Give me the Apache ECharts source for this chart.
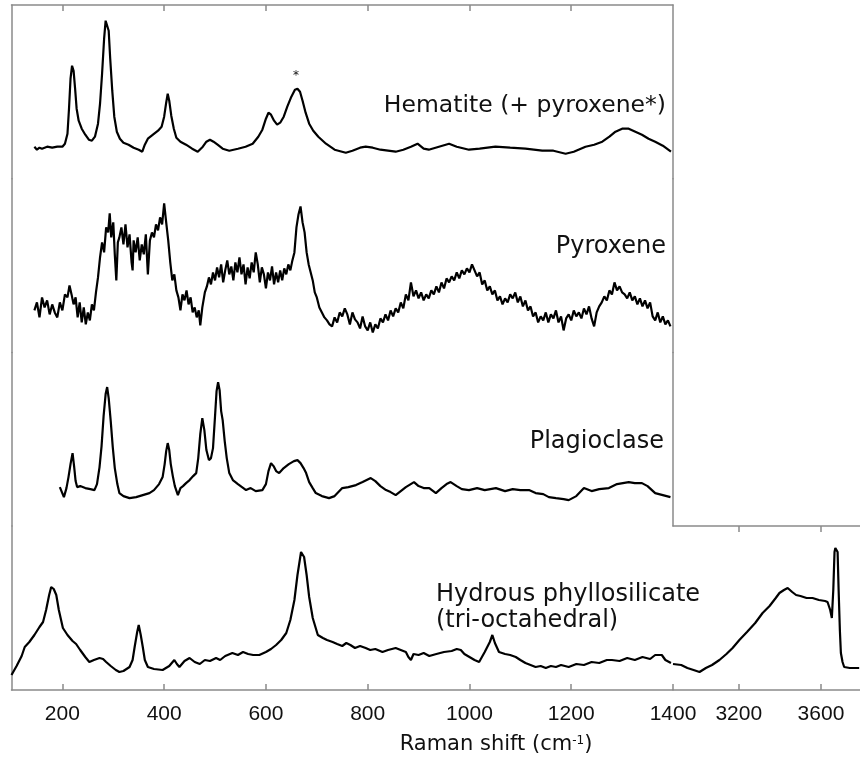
<!DOCTYPE html>
<html>
<head>
<meta charset="utf-8">
<script src="https://cdn.jsdelivr.net/npm/echarts@6/dist/echarts.min.js"></script>
<style>html,body{margin:0;padding:0;background:#fff}#c{width:860px;height:763px}</style>
</head>
<body>
<div id="c"></div>
<script>
// ---- data (Raman shift cm^-1, intensity in arbitrary units) ----
const lowTicks = [200, 400, 600, 800, 1000, 1200, 1400];
const topTicks = [200, 400, 600, 800, 1000, 1200];
const highTicks = [3200, 3600];
const panelNames = ['Hematite (+ pyroxene*)', 'Pyroxene', 'Plagioclase', 'Hydrous phyllosilicate', '(tri-octahedral)'];

const hematite = [[145,32],[150,29],[155,31],[160,30],[170,32],[180,31],[190,32],[200,32],[205,35],[210,45],[213,70],[216,100],[219,113],[222,108],[225,90],[228,70],[232,58],[238,50],[245,44],[252,39],[258,38],[264,42],[270,55],[274,75],[278,105],[282,140],[285,158],[288,160],[291,148],[294,120],[298,88],[302,62],[307,47],[313,40],[320,36],[330,34],[340,31],[350,29],[357,27],[362,34],[368,40],[378,44],[388,48],[395,52],[400,62],[404,76],[407,85],[410,78],[414,63],[419,50],[424,41],[432,37],[443,34],[455,30],[466,27],[476,32],[483,37],[490,39],[497,37],[505,34],[515,30],[528,28],[545,30],[560,32],[574,35],[585,42],[593,49],[600,60],[605,66],[610,64],[616,58],[622,54],[628,56],[635,62],[642,72],[650,82],[657,89],[662,90],[667,87],[672,78],[678,66],[685,55],[693,48],[703,42],[718,35],[735,29],[757,26],[770,28],[785,31],[796,32],[810,31],[825,29],[840,28],[855,27],[870,29],[885,32],[898,35],[910,30],[920,29],[940,32],[960,35],[975,32],[999,29],[1020,30],[1051,32],[1080,31],[1110,30],[1143,28],[1165,28],[1189,25],[1205,27],[1228,32],[1245,34],[1261,37],[1275,42],[1287,47],[1300,50],[1313,50],[1326,47],[1339,44],[1352,40],[1365,37],[1380,33],[1396,27]];

const pyroxene = [[145,42],[150,50],[155,35],[160,55],[165,45],[170,52],[175,38],[180,48],[185,40],[190,35],[195,50],[200,42],[205,58],[210,55],[214,67],[218,58],[222,48],[226,55],[230,35],[234,50],[238,30],[242,45],[246,28],[250,40],[254,32],[258,48],[262,42],[266,60],[270,75],[274,95],[278,110],[282,100],[286,125],[290,120],[293,139],[296,115],[300,130],[303,98],[306,72],[309,110],[312,115],[316,125],[320,108],[324,128],[328,105],[332,118],[336,90],[338,82],[340,112],[344,100],[348,115],[352,92],[356,108],[360,98],[364,118],[368,78],[372,112],[376,120],[380,115],[384,128],[388,122],[392,135],[396,128],[400,149],[404,130],[408,112],[412,90],[416,72],[420,78],[424,62],[428,55],[432,42],[436,58],[440,52],[444,62],[448,48],[452,55],[456,40],[460,45],[464,35],[468,42],[471,27],[475,45],[480,60],[484,66],[488,75],[492,68],[496,80],[500,72],[504,85],[508,75],[512,88],[516,70],[520,82],[524,92],[528,78],[532,86],[536,72],[540,90],[544,80],[548,95],[552,78],[556,88],[560,68],[564,85],[568,74],[572,90],[576,80],[580,100],[584,88],[588,70],[592,85],[596,78],[600,64],[604,80],[608,72],[612,86],[616,68],[620,80],[624,70],[628,82],[632,72],[636,84],[640,78],[644,88],[648,82],[652,92],[656,100],[660,125],[664,138],[668,146],[672,130],[676,120],[680,100],[684,88],[688,80],[692,72],[696,60],[700,55],[705,45],[710,40],[715,35],[720,32],[725,28],[730,26],[735,35],[740,30],[745,40],[750,36],[755,44],[760,38],[765,28],[770,40],[775,33],[780,30],[785,24],[790,36],[795,26],[800,22],[805,30],[810,20],[815,28],[820,24],[825,34],[830,30],[835,38],[840,32],[845,42],[850,36],[855,44],[860,40],[865,50],[870,44],[875,58],[880,52],[885,70],[890,56],[895,62],[900,54],[905,60],[910,52],[915,58],[920,54],[925,62],[930,58],[935,66],[940,60],[945,70],[950,64],[955,74],[960,70],[965,76],[970,72],[975,80],[980,74],[985,82],[990,78],[995,84],[1000,80],[1005,88],[1010,82],[1015,76],[1020,80],[1025,68],[1030,72],[1035,62],[1040,66],[1045,58],[1050,62],[1055,52],[1060,56],[1065,48],[1070,54],[1075,50],[1080,58],[1085,54],[1090,60],[1095,50],[1100,56],[1105,46],[1110,52],[1115,42],[1120,46],[1125,36],[1130,40],[1135,30],[1140,36],[1145,32],[1150,40],[1155,30],[1160,38],[1165,34],[1170,42],[1175,30],[1180,36],[1185,22],[1190,34],[1195,38],[1200,32],[1205,42],[1210,36],[1215,40],[1220,34],[1225,44],[1230,38],[1235,46],[1240,34],[1245,26],[1250,40],[1255,46],[1260,50],[1265,56],[1270,52],[1275,62],[1280,58],[1285,70],[1290,62],[1295,66],[1300,60],[1305,58],[1310,54],[1315,60],[1320,52],[1325,56],[1330,48],[1335,54],[1340,46],[1345,52],[1350,44],[1355,50],[1360,36],[1365,32],[1370,40],[1375,30],[1380,36],[1385,28],[1390,32],[1395,26]];

const plagioclase = [[195,39],[199,34],[203,29],[208,38],[212,49],[216,62],[220,73],[223,60],[226,45],[229,39],[235,40],[245,38],[255,37],[263,36],[268,42],[273,59],[277,80],[281,110],[285,132],[288,139],[291,128],[295,105],[299,79],[303,58],[308,42],[312,33],[320,30],[332,28],[345,29],[358,31],[371,33],[380,36],[390,42],[397,49],[401,62],[404,75],[407,83],[410,76],[413,62],[417,50],[421,40],[427,31],[432,38],[437,40],[443,43],[450,46],[457,50],[463,53],[467,68],[471,92],[475,108],[479,96],[483,76],[488,66],[492,68],[496,78],[500,110],[503,135],[506,144],[509,136],[512,115],[515,106],[519,85],[523,68],[528,53],[535,46],[545,42],[553,39],[561,36],[570,38],[580,35],[593,36],[600,42],[605,55],[610,63],[615,60],[620,55],[626,53],[635,58],[645,62],[655,65],[662,66],[668,63],[674,58],[679,53],[685,44],[692,38],[698,33],[710,30],[724,28],[735,30],[750,38],[762,39],[777,41],[790,44],[806,48],[815,45],[825,40],[836,36],[845,34],[855,31],[865,35],[875,39],[891,44],[900,40],[910,38],[921,38],[934,33],[945,38],[955,42],[963,44],[975,40],[985,37],[999,36],[1015,38],[1030,36],[1052,38],[1070,35],[1085,37],[1100,36],[1117,36],[1130,33],[1145,32],[1156,29],[1170,28],[1185,27],[1195,26],[1210,30],[1225,38],[1240,35],[1255,37],[1274,38],[1290,42],[1313,44],[1325,43],[1339,43],[1350,40],[1365,33],[1380,31],[1395,29]];

const phylloLow = [[100,15],[110,24],[120,34],[126,43],[135,48],[145,55],[155,63],[162,68],[168,80],[174,95],[178,103],[183,101],[188,95],[193,80],[201,62],[210,55],[220,49],[227,46],[235,40],[245,33],[253,28],[262,30],[273,32],[280,31],[286,28],[295,24],[305,20],[312,18],[320,19],[332,23],[338,30],[342,43],[347,58],[350,65],[354,55],[358,43],[362,30],[368,23],[380,21],[397,20],[410,24],[420,30],[425,26],[430,23],[440,29],[450,32],[460,28],[470,26],[480,30],[490,29],[502,32],[510,30],[520,34],[534,37],[545,35],[555,38],[565,36],[575,35],[587,35],[600,38],[610,41],[620,45],[630,50],[640,57],[648,70],[656,90],[662,115],[669,138],[675,133],[680,115],[685,93],[692,72],[702,55],[712,52],[720,50],[731,48],[740,46],[750,44],[758,47],[766,45],[775,42],[785,44],[796,42],[805,40],[815,41],[829,38],[840,40],[855,42],[865,40],[875,38],[880,33],[885,30],[890,36],[900,35],[910,37],[921,34],[935,36],[950,38],[965,39],[975,41],[983,40],[990,36],[1000,33],[1010,30],[1019,28],[1030,38],[1040,48],[1045,55],[1050,47],[1058,38],[1070,36],[1080,35],[1091,33],[1100,30],[1110,27],[1120,25],[1130,23],[1140,24],[1150,22],[1160,24],[1170,23],[1180,25],[1195,23],[1210,26],[1225,25],[1240,28],[1255,27],[1270,30],[1280,30],[1295,29],[1310,32],[1325,30],[1340,33],[1355,31],[1365,35],[1378,35],[1385,30],[1396,27]];

const phylloHigh = [[2880,26],[2920,25],[2950,22],[2980,20],[3009,18],[3040,22],[3070,25],[3106,30],[3140,36],[3170,42],[3203,50],[3240,58],[3280,67],[3316,77],[3350,84],[3380,92],[3398,97],[3420,100],[3438,102],[3460,98],[3479,95],[3500,94],[3530,92],[3559,92],[3590,90],[3620,89],[3632,88],[3645,80],[3653,72],[3660,100],[3666,138],[3670,142],[3676,140],[3681,138],[3686,100],[3692,60],[3697,37],[3705,28],[3713,23],[3740,22],[3786,22]];

// ---- chart ----
const AX = '#8a8a8a';
const TXT = '#111';
const FONT_LBL = '"DejaVu Sans", sans-serif';
const FONT_TICK = '"Liberation Sans", Arial, sans-serif';
const L = 11.5, RLOW = 673, W = RLOW - L;
const panelH = 173.7;
const tops = [5, 5 + panelH, 5 + 2 * panelH];
const botTop = 5 + 3 * panelH, botH = 690 - botTop;

const grids = [
  {left: L, top: tops[0], width: W, height: panelH},
  {left: L, top: tops[1], width: W, height: panelH},
  {left: L, top: tops[2], width: W, height: panelH},
  {left: L, top: botTop, width: W, height: botH},
  {left: RLOW, top: botTop, width: 860 - RLOW, height: botH}
];

const hidden = {show: false};
const lineStyle = {color: AX, width: 1.5};
const plain = v => String(v);

const xAxes = [
  {gridIndex: 0, type: 'value', position: 'top', min: 100, max: 1400,
   axisLine: {show: true, onZero: false, lineStyle}, axisTick: {show: true, inside: true, length: 6, lineStyle, customValues: topTicks},
   axisLabel: {show: false}, splitLine: hidden},
  {gridIndex: 1, type: 'value', min: 100, max: 1400, show: false},
  {gridIndex: 2, type: 'value', min: 100, max: 1400, show: false},
  {gridIndex: 3, type: 'value', position: 'bottom', min: 100, max: 1400,
   axisLine: {show: true, onZero: false, lineStyle}, axisTick: {show: true, inside: true, length: 6, lineStyle, customValues: lowTicks},
   axisLabel: {show: true, customValues: lowTicks, formatter: plain, color: TXT, fontSize: 21, fontFamily: FONT_TICK, margin: 14}, splitLine: hidden},
  {gridIndex: 4, type: 'value', position: 'bottom', min: 2880, max: 3790,
   axisLine: {show: true, onZero: false, lineStyle}, axisTick: {show: true, inside: true, length: 6, lineStyle, customValues: highTicks},
   axisLabel: {show: true, customValues: highTicks, formatter: plain, color: TXT, fontSize: 21, fontFamily: FONT_TICK, margin: 14}, splitLine: hidden},
  {gridIndex: 4, type: 'value', position: 'top', min: 2880, max: 3790,
   axisLine: {show: true, onZero: false, lineStyle}, axisTick: {show: true, inside: true, length: 6, lineStyle, customValues: highTicks},
   axisLabel: {show: false}, splitLine: hidden}
];

function yAx(g, pos, max, showLine) {
  return {gridIndex: g, type: 'value', position: pos, min: 0, max: max,
    axisLine: {show: showLine, onZero: false, lineStyle}, axisTick: hidden, axisLabel: hidden, splitLine: hidden};
}
const yAxes = [
  yAx(0, 'left', panelH, true), yAx(0, 'right', panelH, true),
  yAx(1, 'left', panelH, true), yAx(1, 'right', panelH, true),
  yAx(2, 'left', panelH, true), yAx(2, 'right', panelH, true),
  yAx(3, 'left', botH, true),
  yAx(4, 'left', botH, false)
];

function line(data, xi, yi) {
  return {type: 'line', data: data, xAxisIndex: xi, yAxisIndex: yi, showSymbol: false, symbol: 'none',
    lineStyle: {color: '#000', width: 2.2}, animation: false, silent: true};
}

const option = {
  animation: false,
  backgroundColor: '#fff',
  grid: grids,
  xAxis: xAxes,
  yAxis: yAxes,
  series: [
    line(hematite, 0, 0),
    line(pyroxene, 1, 2),
    line(plagioclase, 2, 4),
    line(phylloLow, 3, 6),
    line(phylloHigh, 4, 7)
  ],
  graphic: [
    {type: 'text', style: {text: panelNames[0], x: 666, y: 106, align: 'right', verticalAlign: 'middle', fontSize: 23.5, fontFamily: FONT_LBL, fill: TXT}},
    {type: 'text', style: {text: '*', x: 296, y: 76, align: 'center', verticalAlign: 'middle', fontSize: 12, fontFamily: FONT_LBL, fill: TXT}},
    {type: 'text', style: {text: panelNames[1], x: 666, y: 247, align: 'right', verticalAlign: 'middle', fontSize: 24, fontFamily: FONT_LBL, fill: TXT}},
    {type: 'text', style: {text: panelNames[2], x: 664, y: 442, align: 'right', verticalAlign: 'middle', fontSize: 24, fontFamily: FONT_LBL, fill: TXT}},
    {type: 'text', style: {text: panelNames[3], x: 436, y: 595, align: 'left', verticalAlign: 'middle', fontSize: 24, fontFamily: FONT_LBL, fill: TXT}},
    {type: 'text', style: {text: panelNames[4], x: 436, y: 621, align: 'left', verticalAlign: 'middle', fontSize: 24, fontFamily: FONT_LBL, fill: TXT}},
    {type: 'text', style: {
      text: '{n|Raman shift (cm}{s|-1}{n|)}', x: 496, y: 745, align: 'center', verticalAlign: 'middle',
      rich: {n: {fontSize: 21, fontFamily: FONT_LBL, fill: TXT}, s: {fontSize: 12, fontFamily: FONT_LBL, fill: TXT, verticalAlign: 'top'}}
    }}
  ]
};

const chart = echarts.init(document.getElementById('c'), null, {renderer: 'canvas'});
chart.setOption(option);
</script>
</body>
</html>
